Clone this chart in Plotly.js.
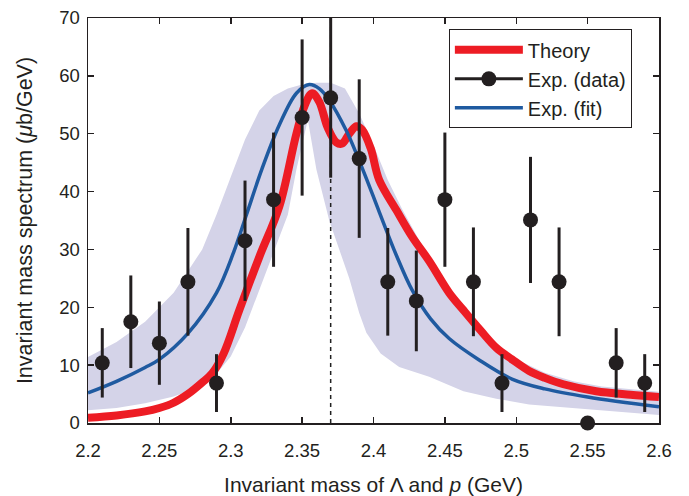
<!DOCTYPE html>
<html>
<head>
<meta charset="utf-8">
<script src="https://cdn.plot.ly/plotly-3.0.1.min.js"></script>
<style>html,body{margin:0;padding:0;background:#fff;}#chart{width:689px;height:496px;}</style>
</head>
<body>
<div id="chart"></div>
<script>
// Experimental data points
const dataMass = [2.21, 2.23, 2.25, 2.27, 2.29, 2.31, 2.33, 2.35, 2.37, 2.39, 2.41, 2.43, 2.45, 2.47, 2.49, 2.51, 2.53, 2.55, 2.57, 2.59];
const dataValue = [10.4, 17.5, 13.8, 24.4, 6.9, 31.5, 38.6, 52.8, 56.2, 45.7, 24.4, 21.1, 38.6, 24.4, 6.9, 35.1, 24.4, 0, 10.4, 6.9];
const dataError = [6.0, 8.0, 7.2, 9.3, 5.0, 10.4, 11.6, 13.5, 13.8, 13.7, 9.3, 8.7, 11.6, 9.4, 5.0, 10.9, 9.4, 0, 6.0, 5.0];

// Theory curve
const theoryMass = [2.2, 2.22, 2.24, 2.25, 2.26, 2.27, 2.28, 2.287, 2.295, 2.306, 2.32, 2.334, 2.346, 2.352, 2.357, 2.362, 2.368, 2.374, 2.378, 2.383, 2.388, 2.392, 2.398, 2.404, 2.416, 2.427, 2.439, 2.453, 2.463, 2.475, 2.486, 2.497, 2.509, 2.52, 2.533, 2.556, 2.58, 2.6];
const theoryValue = [0.9, 1.3, 2.0, 2.6, 3.5, 5.0, 7.0, 8.6, 12, 19.5, 28.7, 37.4, 50, 55, 57, 55.5, 51, 48.5, 48.3, 50, 51.3, 50.7, 47.5, 42, 36.8, 32.2, 28, 22.5, 19.5, 16, 13, 11, 9, 7.8, 6.7, 5.5, 4.9, 4.5];

// Experimental fit curve
const fitMass = [2.2, 2.22, 2.24, 2.25, 2.27, 2.29, 2.302, 2.311, 2.322, 2.334, 2.346, 2.355, 2.362, 2.369, 2.381, 2.393, 2.404, 2.416, 2.427, 2.44, 2.453, 2.474, 2.497, 2.52, 2.55, 2.6];
const fitValue = [5.2, 7.2, 9.6, 11, 15.5, 22.5, 29.5, 36, 44, 51.5, 57, 58.5, 57.8, 55.8, 50.5, 43.5, 36.5, 29, 23, 18, 14.6, 10.9, 7.6, 5.9, 4.5, 2.8];

// Fit uncertainty band
const bandUpperMass = [2.2, 2.22, 2.24, 2.26, 2.28, 2.29, 2.30, 2.31, 2.32, 2.33, 2.34, 2.35, 2.36, 2.37, 2.38, 2.39, 2.40, 2.41, 2.42, 2.43, 2.44, 2.45, 2.46, 2.47, 2.48, 2.49, 2.50, 2.52, 2.54, 2.56, 2.58, 2.6];
const bandUpperValue = [11.4, 14, 17.5, 22.5, 30, 36, 42.5, 49, 54, 56.5, 57.8, 58.5, 58.8, 58.8, 57.8, 53.5, 48, 42, 37, 32.5, 28, 24.5, 21, 18, 15, 12.8, 11, 8.7, 7.2, 6.3, 5.8, 5.4];
const bandLowerMass = [2.2, 2.22, 2.24, 2.26, 2.27, 2.28, 2.29, 2.30, 2.31, 2.32, 2.33, 2.34, 2.346, 2.354, 2.36, 2.369, 2.376, 2.383, 2.39, 2.395, 2.405, 2.418, 2.439, 2.463, 2.486, 2.509, 2.533, 2.56, 2.6];
const bandLowerValue = [2.2, 2.6, 3.4, 4.6, 5.5, 6.8, 8.5, 11.5, 16.5, 23, 29.5, 36, 43.8, 52.4, 43.8, 35, 30, 25, 19, 15.6, 12, 9.7, 8, 5.5, 4.2, 3.2, 2.7, 2.2, 1.4];

// Threshold marker
const thresholdMass = 2.37;
const thresholdRange = [0, 70];

const xTicks = [2.2, 2.25, 2.3, 2.35, 2.4, 2.45, 2.5, 2.55, 2.6];
const xTickText = ['2.2', '2.25', '2.3', '2.35', '2.4', '2.45', '2.5', '2.55', '2.6'];
const yTicks = [0, 10, 20, 30, 40, 50, 60, 70];

const bandX = bandUpperMass.concat(bandLowerMass.slice().reverse());
const bandY = bandUpperValue.concat(bandLowerValue.slice().reverse());

const traces = [
  {x: bandX, y: bandY, mode: 'lines', fill: 'toself', fillcolor: '#d4d3e8', line: {width: 0, color: '#d4d3e8'}, showlegend: false, hoverinfo: 'skip'},
  {x: [thresholdMass, thresholdMass], y: thresholdRange, mode: 'lines', line: {color: '#222', width: 1.5, dash: '4px,4px'}, showlegend: false},
  {x: theoryMass, y: theoryValue, mode: 'lines', name: 'Theory', line: {color: '#ed1c24', width: 8, shape: 'spline'}},
  {x: [null], y: [null], mode: 'lines+markers', name: 'Exp. (data)', line: {color: '#231f20', width: 3}, marker: {color: '#231f20', size: 15}},
  {x: fitMass, y: fitValue, mode: 'lines', name: 'Exp. (fit)', line: {color: '#1f5aa0', width: 3.5, shape: 'spline'}},
  {x: dataMass, y: dataValue, mode: 'markers', showlegend: false, cliponaxis: false,
   marker: {color: '#231f20', size: 15},
   error_y: {type: 'data', array: dataError, visible: true, color: '#231f20', thickness: 3, width: 0}}
];

const fontFamily = 'Liberation Sans, Arial, Helvetica, sans-serif';
const axisCommon = {
  showline: true, linecolor: '#231f20', linewidth: 1.5, mirror: 'ticks',
  ticks: 'inside', ticklen: 6, tickwidth: 1.5, tickcolor: '#231f20',
  showgrid: false, zeroline: false,
  tickfont: {family: fontFamily, size: 18.5, color: '#231f20'}
};

const layout = {
  width: 689, height: 496,
  margin: {l: 88, r: 30, t: 18, b: 73},
  paper_bgcolor: '#fff', plot_bgcolor: '#fff',
  font: {family: fontFamily, color: '#231f20'},
  xaxis: Object.assign({}, axisCommon, {
    range: [2.2, 2.6], tickvals: xTicks, ticktext: xTickText, ticklabelstandoff: 10,
    title: {text: 'Invariant mass of Λ and <i>p</i> (GeV)', font: {size: 21, color: '#231f20'}, standoff: 17}
  }),
  yaxis: Object.assign({}, axisCommon, {
    range: [0, 70], tickvals: yTicks, ticklabelstandoff: 3,
    title: {text: 'Invariant mass spectrum (<i>μ</i>b/GeV)', font: {size: 21.5, color: '#231f20'}, standoff: 20}
  }),
  legend: {
    x: 0.632, y: 0.972, xanchor: 'left', yanchor: 'top',
    bgcolor: '#fff', bordercolor: '#231f20', borderwidth: 1,
    font: {family: fontFamily, size: 20, color: '#231f20'}, tracegroupgap: 0, itemwidth: 68
  },
  showlegend: true
};

Plotly.newPlot('chart', traces, layout, {displayModeBar: false, staticPlot: true});
</script>
</body>
</html>
